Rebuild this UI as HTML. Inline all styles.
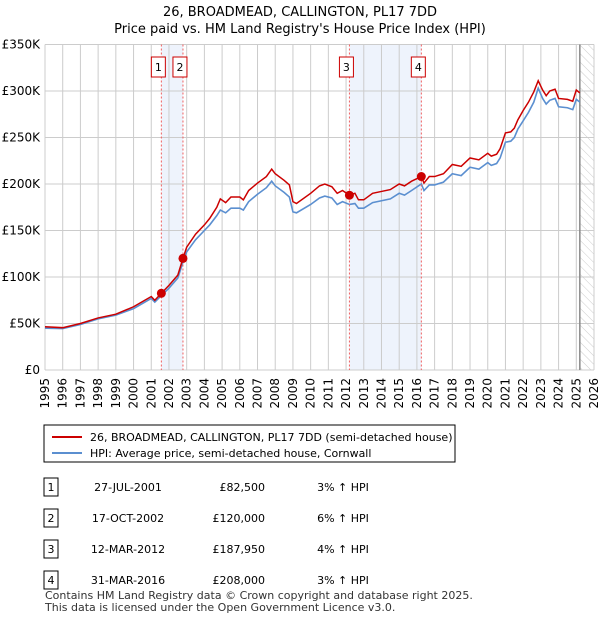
<!DOCTYPE html>
<html><head><meta charset="utf-8"><style>
body{margin:0;background:#fff;font-family:"Liberation Sans","DejaVu Sans",sans-serif;}
svg text{font-family:"DejaVu Sans","Liberation Sans",sans-serif;}
</style></head><body>
<svg id="c" width="600" height="620" xmlns="http://www.w3.org/2000/svg">
<defs><pattern id="hatch" width="6" height="6" patternUnits="userSpaceOnUse" patternTransform="rotate(-45)"><line x1="0" y1="0" x2="0" y2="6" stroke="#ccc" stroke-width="1"/></pattern></defs>
<text x="300" y="16" text-anchor="middle" font-size="13">26, BROADMEAD, CALLINGTON, PL17 7DD</text>
<text x="300" y="33" text-anchor="middle" font-size="13">Price paid vs. HM Land Registry's House Price Index (HPI)</text>
<g id="bands"></g><g id="grid"></g><g id="series"></g><g id="marks"></g>
<rect x="44" y="425" width="411" height="37" fill="#fff" stroke="#000"/>
<line x1="52" y1="437" x2="82" y2="437" stroke="#cc0000" stroke-width="2"/>
<text x="90" y="441" font-size="11">26, BROADMEAD, CALLINGTON, PL17 7DD (semi-detached house)</text>
<line x1="52" y1="453" x2="82" y2="453" stroke="#5b8fd0" stroke-width="2"/>
<text x="90" y="457" font-size="11">HPI: Average price, semi-detached house, Cornwall</text>
<g id="table"></g>
<text x="45" y="599" font-size="11" fill="#333">Contains HM Land Registry data © Crown copyright and database right 2025.</text>
<text x="45" y="611" font-size="11" fill="#333">This data is licensed under the Open Government Licence v3.0.</text>
</svg>
<script>
const yearTicks=[1995,1996,1997,1998,1999,2000,2001,2002,2003,2004,2005,2006,2007,2008,2009,2010,2011,2012,2013,2014,2015,2016,2017,2018,2019,2020,2021,2022,2023,2024,2025,2026];
const valueTicks=[0,50,100,150,200,250,300,350];
const valueLabels=["£0","£50K","£100K","£150K","£200K","£250K","£300K","£350K"];
const priceT=[1995,1996,1997,1998,1999,2000,2001,2001.2,2001.57,2002,2002.5,2002.79,2003,2003.5,2004,2004.3,2004.7,2004.9,2005.2,2005.5,2006,2006.2,2006.5,2007,2007.5,2007.8,2008,2008.5,2008.8,2009,2009.2,2010,2010.5,2010.8,2011.2,2011.5,2011.8,2012.19,2012.5,2012.7,2013,2013.5,2014,2014.5,2015,2015.3,2015.7,2016.25,2016.4,2016.7,2017,2017.5,2018,2018.5,2019,2019.5,2020,2020.2,2020.5,2020.7,2021,2021.3,2021.5,2021.7,2022,2022.3,2022.6,2022.85,2023.1,2023.3,2023.5,2023.8,2024,2024.5,2024.8,2025,2025.2];
const priceV=[46.5,45.5,50,56,60,68,79,75,82.5,91,102,120,132,146,156,163,175,184,180,186,186,183,193,201,208,216,211,204,199,181,179,190,198,200,197,190,193,187.95,190,183,183,190,192,194,200,198,203,208,201,208,208,211,221,219,228,226,233,230,232,238,255,256,260,269,279,288,299,311,301,295,300,302,292,291,289,301,298];
const hpiV=[45,44.5,49,55,59,66,77,73,80,88,99,116,127,140,150,156,166,172,169,174,174,172,181,189,196,203,198,191,186,170,169,178,185,187,185,178,181,178,179,174,174,180,182,184,190,188,193,200,193,199,199,202,211,209,218,216,223,220,222,228,245,246,250,259,268,277,288,303,292,286,290,292,283,282,280,291,288];
const saleT=[2001.57,2002.79,2012.19,2016.25];
const saleV=[82.5,120,187.95,208];
const saleLabels=["1","2","3","4"];
const saleDates=["27-JUL-2001","17-OCT-2002","12-MAR-2012","31-MAR-2016"];
const salePrices=["£82,500","£120,000","£187,950","£208,000"];
const saleDiff=["3% ↑ HPI","6% ↑ HPI","4% ↑ HPI","3% ↑ HPI"];
const NS="http://www.w3.org/2000/svg";
const X0=45,X1=594,Y0=370,Y1=44.5;
const xs=t=>X0+(t-1995)/(2026-1995)*(X1-X0);
const ys=v=>Y0-v/350*(Y0-Y1);
function mk(tag,at,parent){const e=document.createElementNS(NS,tag);for(const k in at)e.setAttribute(k,at[k]);document.getElementById(parent).appendChild(e);return e;}
let b=mk('rect',{x:xs(saleT[0]),y:Y1,width:xs(saleT[1])-xs(saleT[0]),height:Y0-Y1,fill:'#eef3fc'},'bands');


b=mk('rect',{x:xs(saleT[2]),y:Y1,width:xs(saleT[3])-xs(saleT[2]),height:Y0-Y1,fill:'#eef3fc'},'bands');


b=mk('rect',{x:xs(2025.2),y:Y1,width:X1-xs(2025.2),height:Y0-Y1,fill:'url(#hatch)'},'bands');


yearTicks.forEach(y=>{const x=xs(y);
 let l=mk('line',{x1:x,y1:Y1,x2:x,y2:Y0,stroke:'#ccc'},'grid');
 
 
 let t=mk('text',{x:0,y:0,'font-size':12,'text-anchor':'end',transform:`translate(${x+4},${Y0+8}) rotate(-90)`},'grid');
 t.textContent=y;
 
 });
valueTicks.forEach((v,i)=>{const y=ys(v);
 let l=mk('line',{x1:X0,y1:y,x2:X1,y2:y,stroke:'#ccc'},'grid');
 
 
 let t=mk('text',{x:40,y:y+4,'font-size':12,'text-anchor':'end'},'grid');
 t.textContent=valueLabels[i];
 
 });
let nl=mk('line',{x1:xs(2025.2),y1:Y1,x2:xs(2025.2),y2:Y0,stroke:'#888','stroke-width':1.5},'grid');


let hp=mk('polyline',{points:priceT.map((t,i)=>xs(t)+','+ys(hpiV[i])).join(' '),fill:'none',stroke:'#5b8fd0','stroke-width':1.6},'series');


let pp=mk('polyline',{points:priceT.map((t,i)=>xs(t)+','+ys(priceV[i])).join(' '),fill:'none',stroke:'#cc0000','stroke-width':1.5},'series');


saleT.forEach((t,i)=>{const x=xs(t);
 let l=mk('line',{x1:x,y1:Y1,x2:x,y2:Y0,stroke:'#f06060','stroke-dasharray':'2,2'},'marks');
 
 
 let c=mk('circle',{cx:x,cy:ys(saleV[i]),r:4.5,fill:'#cc0000'},'marks');
 
 
 let r=mk('rect',{x:x-10,y:57,width:14,height:20,fill:'#fff',stroke:'#cc0000'},'marks');
 
 
 let tx=mk('text',{x:x-3,y:71,'font-size':11,'text-anchor':'middle'},'marks');
 tx.textContent=saleLabels[i];
 
 
 const ry=478+i*31;
 let bx=mk('rect',{x:44,y:ry,width:14,height:18,fill:'#fff',stroke:'#000'},'table');
 
 
 const cells=[[51,saleLabels[i],'middle'],[128,saleDates[i],'middle'],[265,salePrices[i],'end'],[343,saleDiff[i],'middle']];
 cells.forEach(cc=>{let e=mk('text',{x:cc[0],y:ry+13,'font-size':11,'text-anchor':cc[2]},'table');
  e.textContent=cc[1];
  
  });
});
</script>
</body></html>
